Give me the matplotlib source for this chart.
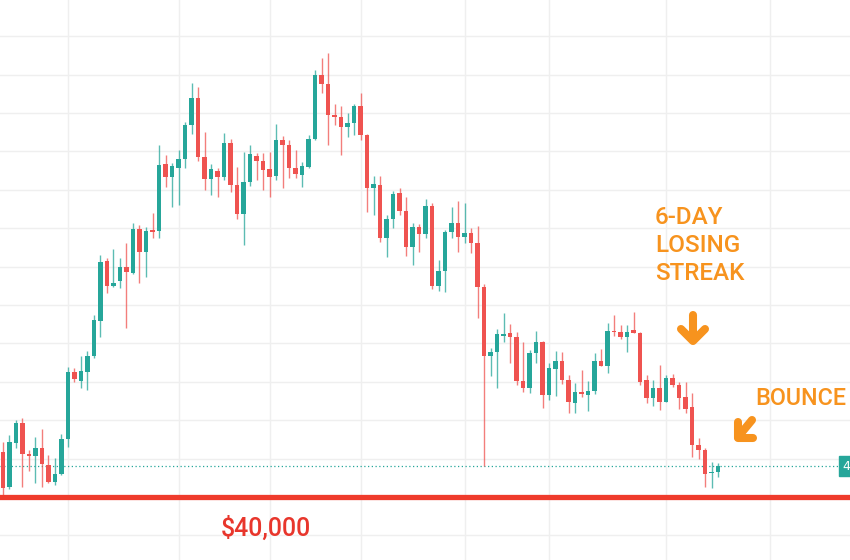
import matplotlib
matplotlib.use("Agg")
import matplotlib.pyplot as plt
from matplotlib.transforms import blended_transform_factory

# Daily candles (USD)
opens = [42360, 40510, 42830, 43870, 42220, 42140, 42540, 41670, 40800, 41180,
         43020, 46490, 46060, 46530, 47360, 49170, 52310, 51000, 51250, 51980,
         51650, 53940, 52780, 53910, 53850, 57330, 56680, 57150, 57590, 59370,
         60760, 57720, 56550, 56990, 56650, 58450, 56250, 54720, 56420, 57780,
         57500, 57070, 56720, 58590, 58330, 57110, 56770, 57200, 58630, 61990,
         61490, 59910, 59810, 59290, 59490, 60390, 58850, 56080, 56250, 53490,
         54480, 55830, 54900, 53000, 54060, 53700, 55160, 50990, 51770, 53820,
         54250, 53560, 53760, 53210, 50950, 47330, 47530, 48390, 48530, 48350,
         46020, 45680, 47520, 48090, 45310, 46650, 47100, 46090, 44910, 45480,
         45310, 45540, 47110, 46820, 48660, 48610, 48320, 48700, 48560, 46090,
         45140, 45660, 44960, 46180, 45830, 45190, 44670, 42710, 42450, 41230,
         41320]
highs = [42880, 43230, 44010, 44100, 42450, 43140, 43530, 42190, 42020, 43280,
         46790, 46700, 47340, 47600, 49480, 52600, 52450, 52900, 52450, 53210,
         54250, 54170, 54080, 54780, 58330, 57810, 57380, 58070, 59550, 61550,
         61340, 59020, 57330, 57150, 58970, 58630, 57170, 57980, 58330, 57900,
         57930, 57980, 59430, 58800, 58590, 58070, 57460, 58850, 62240, 62850,
         63140, 60470, 60360, 60010, 60450, 61060, 58900, 56720, 56740, 54690,
         55940, 56080, 55610, 54270, 54240, 55520, 55330, 52340, 53910, 55120,
         55420, 55300, 53990, 54110, 51070, 47780, 48760, 49570, 49010, 48610,
         48090, 47660, 48650, 48150, 46960, 47600, 47530, 46350, 45920, 46640,
         46020, 47480, 47690, 49060, 49480, 48960, 48960, 49650, 48600, 46350,
         46090, 46870, 46350, 46410, 46000, 46000, 45430, 43060, 42550, 41840,
         41760]
lows = [40020, 40420, 42540, 40540, 41370, 40710, 40540, 40710, 40620, 41150,
        42620, 46000, 45660, 45570, 47220, 48350, 50610, 50950, 50890, 48790,
        51610, 51130, 51440, 53470, 53470, 56160, 55120, 55210, 57120, 58910,
        57510, 55990, 55730, 55640, 56510, 55900, 54460, 53120, 56200, 56510,
        55990, 55640, 56510, 56080, 56600, 56600, 56150, 57120, 58590, 61020,
        58330, 59370, 57810, 58730, 58850, 58590, 54860, 54710, 53280, 52520,
        53990, 54690, 52530, 52080, 52760, 53510, 50820, 50730, 50690, 53470,
        52780, 53210, 52720, 49310, 41610, 46280, 45680, 48090, 46960, 45860,
        45480, 45420, 46980, 44620, 45050, 45260, 45900, 44390, 44390, 45190,
        44490, 45360, 46800, 46470, 48390, 48210, 47570, 48530, 45830, 44880,
        44740, 44530, 44940, 45740, 44570, 44390, 42100, 41960, 40510, 40450,
        41060]
closes = [40470, 42850, 43870, 42220, 42140, 42540, 41720, 40800, 41180, 43020,
          46490, 46130, 46560, 47360, 49200, 52240, 50990, 51130, 51980, 51720,
          53940, 52780, 53870, 53800, 57290, 56680, 57240, 57590, 59370, 60760,
          57720, 56550, 57070, 56680, 58450, 56250, 54720, 56420, 57850, 57510,
          57030, 56670, 58590, 58330, 57110, 56800, 57240, 58630, 61990, 61490,
          59890, 59810, 59290, 59490, 60390, 58850, 56080, 56280, 53490, 54490,
          55780, 54920, 53000, 54060, 53710, 55160, 50990, 51770, 53820, 54250,
          53560, 53760, 53210, 50950, 47330, 47530, 48470, 48470, 48350, 46020,
          45680, 47520, 48090, 45310, 46700, 47100, 46110, 44960, 45480, 45340,
          45540, 47110, 46820, 48630, 48580, 48320, 48610, 48560, 46000, 45140,
          45690, 44960, 46210, 45830, 45140, 44570, 42710, 42450, 41200, 41320,
          41610]

support = 40000
grid_days = [10, 27, 41, 55, 71, 84, 102, 118]

GREEN = "#26a69a"
RED = "#ef5350"
ORANGE = "#f7931e"
FONT = ["Roboto", "DejaVu Sans"]

fig = plt.figure(figsize=(8.5, 5.6), dpi=100)
ax = fig.add_axes([0, 0, 1, 1])

x = list(range(len(closes)))
colors = [GREEN if c >= o else RED for o, c in zip(opens, closes)]
bottoms = [min(o, c) for o, c in zip(opens, closes)]
heights = [max(abs(c - o), 70) for o, c in zip(opens, closes)]

ax.vlines(x, lows, highs, colors=colors, lw=1.0, alpha=0.75, zorder=3)
ax.bar(x, heights, bottom=bottoms, width=0.72, color=colors, zorder=4)

# support line and last price line
ax.axhline(support, color="#ef3b2c", lw=3.8, zorder=5)
ax.axhline(closes[-1], xmax=0.99, color=GREEN, lw=0.9, ls=(0, (1, 2)), zorder=2)
tr = blended_transform_factory(ax.transAxes, ax.transData)
ax.text(0.991, closes[-1], f"{closes[-1]:,}", transform=tr, color="white",
        fontsize=9, ha="left", va="center",
        bbox=dict(boxstyle="square,pad=0.25", fc=GREEN, ec=GREEN))

ax.set_xlim(-0.46, 130.3)
ax.set_ylim(36720, 65885)
ax.set_xticks(grid_days)
ax.set_yticks(range(38000, 66000, 2000))
ax.tick_params(length=0, labelbottom=False, labelleft=False)
ax.grid(color="#efefef", lw=1)
ax.set_axisbelow(True)
for s in ax.spines.values():
    s.set_visible(False)


def px(xp, yp):
    return xp / 850, 1 - yp / 560


for label, yb in [("6-DAY", 224.5), ("LOSING", 251.5), ("STREAK", 279.5)]:
    ax.text(*px(655, yb), label, transform=ax.transAxes, color=ORANGE,
            fontsize=17.5, family=FONT, weight="medium", ha="left", va="baseline")
ax.text(*px(755, 405), "BOUNCE", transform=ax.transAxes, color=ORANGE,
        fontsize=16.8, family=FONT, weight="medium", ha="left", va="baseline")
ax.text(*px(221, 536), "$40,000", transform=ax.transAxes, color="#e8362c",
        fontsize=18, family=FONT, weight="medium", ha="left", va="baseline")

# hand-drawn style arrows
arrow_kw = dict(transform=ax.transAxes, color=ORANGE, lw=5.8,
                solid_capstyle="round", solid_joinstyle="round", zorder=6)
for pts in ([(693, 315), (693, 340)], [(681, 329), (693, 341), (705, 329)],
            [(752, 420), (738, 437)], [(738, 422), (738, 438), (753, 438)]):
    xs, ys = zip(*[px(a, b) for a, b in pts])
    ax.plot(xs, ys, **arrow_kw)

fig.savefig("out.png", dpi=100)
